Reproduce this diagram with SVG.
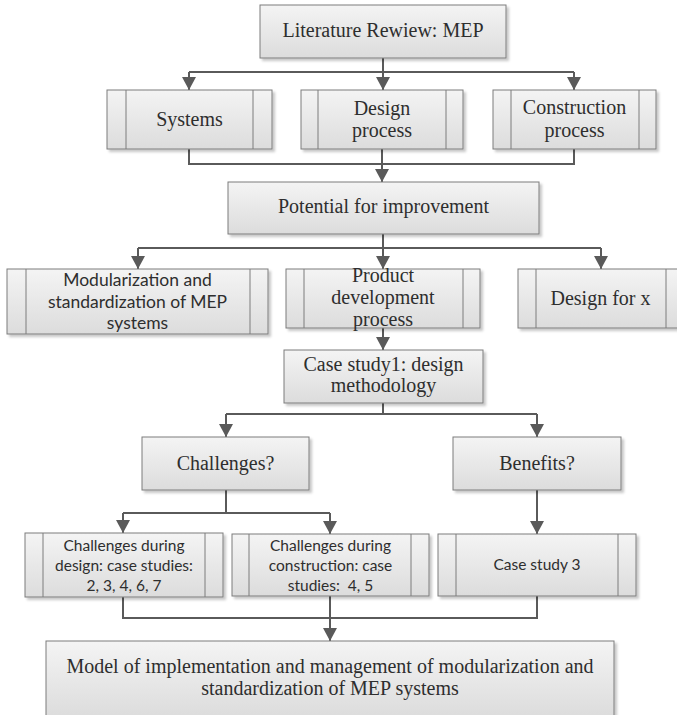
<svg xmlns="http://www.w3.org/2000/svg" width="677" height="715" viewBox="0 0 677 715">
  <defs>
    <linearGradient id="boxFill" x1="0" y1="0" x2="0" y2="1">
      <stop offset="0" stop-color="#f4f4f4"/>
      <stop offset="1" stop-color="#dcdcdc"/>
    </linearGradient>
    <filter id="shadow" x="-5%" y="-5%" width="115%" height="130%">
      <feDropShadow dx="2.5" dy="2.5" stdDeviation="1.2" flood-color="#000" flood-opacity="0.22"/>
    </filter>
    <marker id="arrow" markerUnits="userSpaceOnUse" markerWidth="14" markerHeight="14" viewBox="0 0 14 14" refX="13" refY="7" orient="auto">
      <path d="M0,0 L13,7 L0,14 Z" fill="#5a5a5a"/>
    </marker>
  </defs>
  <style>
    .box { fill: url(#boxFill); stroke: #7c7c7c; stroke-width: 1; filter: url(#shadow); }
    .bar { stroke: #7c7c7c; stroke-width: 1; }
    .serif { font-family: "Liberation Serif", "DejaVu Serif", serif; font-size: 20px; fill: #2e2e2e; text-anchor: middle; }
    .sans { font-family: Lato, "Liberation Sans", sans-serif; font-size: 17.5px; fill: #2e2e2e; text-anchor: middle; }
    .sans.small { font-size: 15.5px; }
    .link { fill: none; stroke: #5a5a5a; stroke-width: 2; }
    .link.tip { marker-end: url(#arrow); }
  </style>
  <rect width="677" height="715" fill="#ffffff"/>

  <!-- connectors -->
  <g id="connectors">
    <path class="link" d="M383,58 V72"/>
    <path class="link" d="M189,72 H574"/>
    <path class="link tip" d="M189,72 V90"/>
    <path class="link tip" d="M383,72 V90"/>
    <path class="link tip" d="M574,72 V90"/>

    <path class="link" d="M189,149 V164 H574 V149"/>
    <path class="link tip" d="M382,149 V182"/>

    <path class="link" d="M383,234 V248"/>
    <path class="link" d="M138,248 H601"/>
    <path class="link tip" d="M138,248 V269"/>
    <path class="link tip" d="M383,248 V269"/>
    <path class="link tip" d="M601,248 V269"/>

    <path class="link tip" d="M383,328 V350"/>

    <path class="link" d="M383,403 V414"/>
    <path class="link" d="M226,414 H537"/>
    <path class="link tip" d="M226,414 V437"/>
    <path class="link tip" d="M537,414 V437"/>

    <path class="link" d="M226,490 V513"/>
    <path class="link" d="M123,513 H330"/>
    <path class="link tip" d="M123,513 V533"/>
    <path class="link tip" d="M330,513 V534"/>

    <path class="link tip" d="M537,490 V534"/>

    <path class="link" d="M123,597 V618 H537 V596"/>
    <path class="link tip" d="M330,596 V641"/>
  </g>

  <!-- nodes -->
  <g id="literature-review">
    <rect class="box" x="260" y="5" width="246" height="53"/>
    <text class="serif" x="383" y="37">Literature Rewiew: MEP</text>
  </g>

  <g id="systems">
    <rect class="box" x="107" y="90" width="165" height="59"/>
    <line class="bar" x1="126" y1="90" x2="126" y2="149"/>
    <line class="bar" x1="253" y1="90" x2="253" y2="149"/>
    <text class="serif" x="189.5" y="126">Systems</text>
  </g>

  <g id="design-process">
    <rect class="box" x="301" y="90" width="162" height="59"/>
    <line class="bar" x1="318" y1="90" x2="318" y2="149"/>
    <line class="bar" x1="446" y1="90" x2="446" y2="149"/>
    <text class="serif" x="382" y="115">Design</text>
    <text class="serif" x="382" y="137">process</text>
  </g>

  <g id="construction-process">
    <rect class="box" x="493" y="90" width="163" height="59"/>
    <line class="bar" x1="511" y1="90" x2="511" y2="149"/>
    <line class="bar" x1="639" y1="90" x2="639" y2="149"/>
    <text class="serif" x="574.5" y="114">Construction</text>
    <text class="serif" x="574.5" y="137">process</text>
  </g>

  <g id="potential">
    <rect class="box" x="228" y="182" width="311" height="52"/>
    <text class="serif" x="383.5" y="213">Potential for improvement</text>
  </g>

  <g id="modularization">
    <rect class="box" x="7" y="269" width="261" height="65"/>
    <line class="bar" x1="26" y1="269" x2="26" y2="334"/>
    <line class="bar" x1="250" y1="269" x2="250" y2="334"/>
    <text class="sans" x="137.5" y="286">Modularization and</text>
    <text class="sans" x="137.5" y="308">standardization of MEP</text>
    <text class="sans" x="137.5" y="329">systems</text>
  </g>

  <g id="product-development">
    <rect class="box" x="286" y="269" width="194" height="59"/>
    <line class="bar" x1="304" y1="269" x2="304" y2="328"/>
    <line class="bar" x1="463" y1="269" x2="463" y2="328"/>
    <text class="serif" x="383" y="282">Product</text>
    <text class="serif" x="383" y="304">development</text>
    <text class="serif" x="383" y="326">process</text>
  </g>

  <g id="design-for-x">
    <rect class="box" x="518" y="269" width="166" height="59"/>
    <line class="bar" x1="536" y1="269" x2="536" y2="328"/>
    <line class="bar" x1="666" y1="269" x2="666" y2="328"/>
    <text class="serif" x="600.5" y="305">Design for x</text>
  </g>

  <g id="case-study-1">
    <rect class="box" x="284" y="350" width="199" height="53"/>
    <text class="serif" x="383.5" y="371">Case study1: design</text>
    <text class="serif" x="383.5" y="392">methodology</text>
  </g>

  <g id="challenges">
    <rect class="box" x="142" y="437" width="167" height="53"/>
    <text class="serif" x="225.5" y="470">Challenges?</text>
  </g>

  <g id="benefits">
    <rect class="box" x="453" y="437" width="168" height="53"/>
    <text class="serif" x="537" y="470">Benefits?</text>
  </g>

  <g id="challenges-design">
    <rect class="box" x="25" y="533" width="198" height="64"/>
    <line class="bar" x1="43" y1="533" x2="43" y2="597"/>
    <line class="bar" x1="205" y1="533" x2="205" y2="597"/>
    <text class="sans small" x="124" y="551">Challenges during</text>
    <text class="sans small" x="124" y="571">design: case studies:</text>
    <text class="sans small" x="124" y="591">2, 3, 4, 6, 7</text>
  </g>

  <g id="challenges-construction">
    <rect class="box" x="232" y="534" width="197" height="62"/>
    <line class="bar" x1="249" y1="534" x2="249" y2="596"/>
    <line class="bar" x1="411" y1="534" x2="411" y2="596"/>
    <text class="sans small" x="330.5" y="551">Challenges during</text>
    <text class="sans small" x="330.5" y="571">construction: case</text>
    <text class="sans small" x="330.5" y="591" xml:space="preserve">studies:  4, 5</text>
  </g>

  <g id="case-study-3">
    <rect class="box" x="438" y="534" width="198" height="62"/>
    <line class="bar" x1="456" y1="534" x2="456" y2="596"/>
    <line class="bar" x1="618" y1="534" x2="618" y2="596"/>
    <text class="sans small" x="537" y="570">Case study 3</text>
  </g>

  <g id="model">
    <rect class="box" x="46" y="641" width="568" height="76"/>
    <text class="serif" x="330" y="673">Model of implementation and management of modularization and</text>
    <text class="serif" x="330" y="695">standardization of MEP systems</text>
  </g>
</svg>
